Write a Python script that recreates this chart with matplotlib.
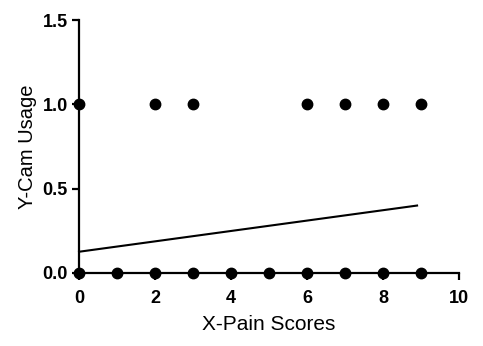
import numpy as np
import matplotlib
matplotlib.use('Agg')
from matplotlib import pyplot as plt

plt.rcParams['font.family'] = ['Liberation Sans', 'DejaVu Sans']

# observed points
x_one = [0, 2, 3, 6, 7, 8, 9]
y_one = [1, 1, 1, 1, 1, 1, 1]
x_zero = [0, 1, 2, 3, 4, 5, 6, 7, 8, 9]
y_zero = [0, 0, 0, 0, 0, 0, 0, 0, 0, 0]

# fitted line endpoints
fit_x = [0, 8.9]
fit_y = [0.126, 0.40]

xticks = [0, 2, 4, 6, 8, 10]
yticks = [0.0, 0.5, 1.0, 1.5]

fig = plt.figure(figsize=(4.83, 3.46), dpi=100)
ax = fig.add_axes([0.1636, 0.211, 0.7864, 0.731])

ax.plot(fit_x, fit_y, color='black', lw=1.5, clip_on=False)
ax.plot(x_one, y_one, 'o', color='black', ms=7.5, clip_on=False, zorder=5)
ax.plot(x_zero, y_zero, 'o', color='black', ms=7.5, clip_on=False, zorder=5)

ax.set_xlim(0, 10)
ax.set_ylim(0, 1.5)
ax.set_xticks(xticks)
ax.set_yticks(yticks)
ax.set_yticklabels([f'{v:.1f}' for v in yticks])
for s in ('top', 'right'):
    ax.spines[s].set_visible(False)
for s in ('left', 'bottom'):
    ax.spines[s].set_linewidth(1.6)
ax.tick_params(width=1.6, length=5, labelsize=13)
ax.tick_params(axis='x', pad=7)
ax.tick_params(axis='y', pad=3)
for lab in ax.get_xticklabels() + ax.get_yticklabels():
    lab.set_fontweight('bold')
ax.set_xlabel('X-Pain Scores', fontsize=15, labelpad=6)
ax.set_ylabel('Y-Cam Usage', fontsize=14.5, labelpad=4)

fig.savefig('out.png', dpi=100)
